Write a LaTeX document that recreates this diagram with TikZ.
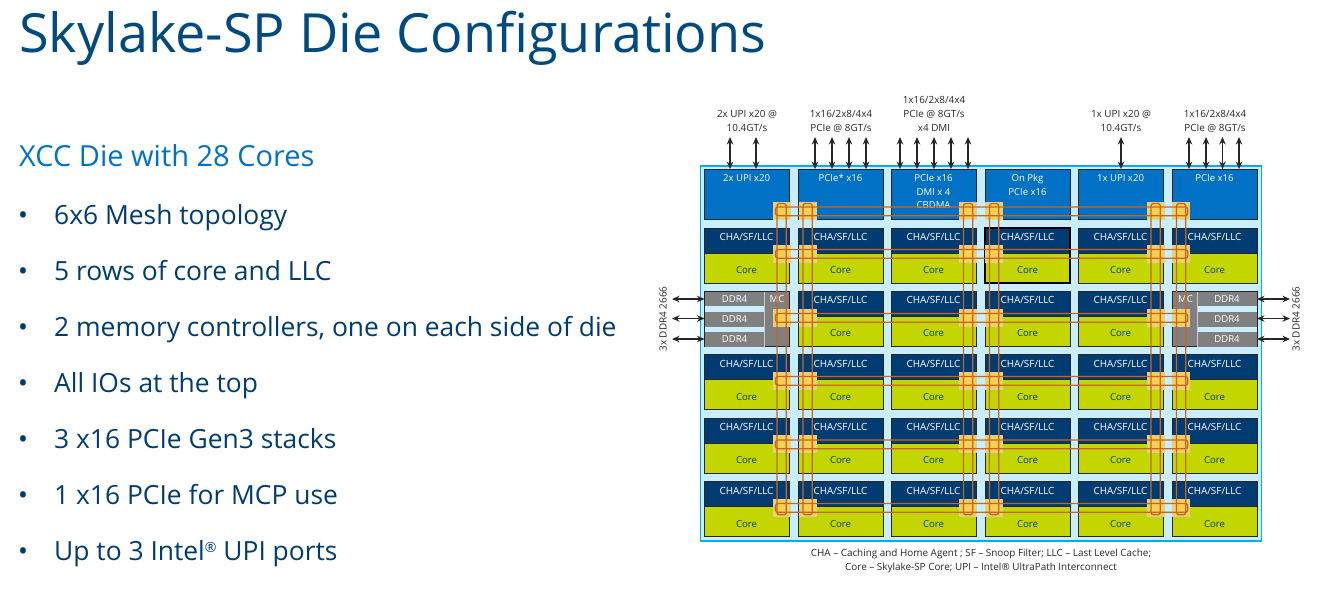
\documentclass[tikz,border=0pt]{standalone}
\usepackage{fontspec}
\usetikzlibrary{arrows.meta}
\setmainfont{Open Sans}
\definecolor{inteldark}{HTML}{004A7F}
\definecolor{intelblue}{HTML}{0071C5}
\definecolor{chablue}{HTML}{003C71}
\definecolor{corelime}{HTML}{C4D600}
\definecolor{dieback}{HTML}{C9EEFF}
\definecolor{dieedge}{HTML}{00AEEF}
\definecolor{ddrgray}{HTML}{808080}
\definecolor{stopfill}{HTML}{F6CF55}
\definecolor{stopedge}{HTML}{D8D0A8}
\definecolor{meshline}{HTML}{C8661E}
\tikzset{
    item/.style={anchor=base west, inner sep=0, text=chablue, font=\fontsize{26.4}{30}\selectfont},
    tilebase/.style={draw=black!85, line width=0.9pt, anchor=north west, inner sep=0, outer sep=0, minimum width=85pt},
    topblock/.style={tilebase, fill=intelblue, minimum height=50pt},
    chaband/.style={tilebase, fill=chablue, minimum height=25pt, text=white, font=\fontsize{9.9}{12}\selectfont, text height=8pt, text depth=8pt},
    coreband/.style={tilebase, fill=corelime, minimum height=30pt, text=chablue, font=\fontsize{9.6}{12}\selectfont, text height=11pt, text depth=0pt},
    memblock/.style={tilebase, fill=ddrgray, minimum height=54.5pt},
    ddrstrip/.style={fill=ddrgray, anchor=north west, inner sep=0, outer sep=0, minimum width=60pt, minimum height=14.5pt, text=white, font=\fontsize{9.6}{12}\selectfont},
    toplabel/.style={anchor=north, inner sep=0, align=center, text=white, font=\fontsize{9.6}{13.5}\selectfont},
    ext/.style={align=center, inner sep=0, text=black!85, font=\fontsize{9.9}{14}\selectfont},
    stopbox/.style={fill=stopfill, draw=stopedge, line width=0.8pt, anchor=north west, inner sep=0, minimum size=17pt},
    meshloop/.style={draw=meshline, line width=1.3pt, rounded corners=2.5pt},
    iolink/.style={{Stealth[length=7.5pt,width=6.5pt]}-{Stealth[length=7.5pt,width=6.5pt]}, line width=1.1pt, black!85}
}
\begin{document}
\begin{tikzpicture}[x=1pt, y=-1pt]
    \useasboundingbox (0, 0) rectangle (1322, 611);

    \node[anchor=base west, inner sep=0, text=inteldark, font=\fontsize{54}{60}\selectfont] (title) at (19, 52) {Skylake-SP Die Configurations};
    \node[anchor=base west, inner sep=0, text=intelblue, font=\fontsize{29}{34}\selectfont] (subtitle) at (19, 166) {XCC Die with 28 Cores};
    \node[item] (item1) at (18, 224) {\makebox[36pt][l]{•}6x6 Mesh topology};
    \node[item] (item2) at (18, 280) {\makebox[36pt][l]{•}5 rows of core and LLC};
    \node[item] (item3) at (18, 336) {\makebox[36pt][l]{•}2 memory controllers, one on each side of die};
    \node[item] (item4) at (18, 392) {\makebox[36pt][l]{•}All IOs at the top};
    \node[item] (item5) at (18, 448) {\makebox[36pt][l]{•}3 x16 PCIe Gen3 stacks};
    \node[item] (item6) at (18, 504) {\makebox[36pt][l]{•}1 x16 PCIe for MCP use};
    \node[item] (item7) at (18, 560) {\makebox[36pt][l]{•}Up to 3 Intel\raisebox{8pt}{\fontsize{14}{14}\selectfont ®} UPI ports};

    % die
    \node[draw=dieedge, fill=dieback, line width=1.6pt, anchor=north west, inner sep=0, minimum width=561pt, minimum height=375pt] (die) at (699.8, 165) {};

    \node[topblock] (io1) at (704, 169) {};
    \node[topblock] (io2) at (798, 169) {};
    \node[topblock] (io3) at (891, 169) {};
    \node[topblock] (io4) at (985, 169) {};
    \node[topblock] (io5) at (1078, 169) {};
    \node[topblock] (io6) at (1172, 169) {};
    \node[toplabel] (iotext1) at (746.5, 174.5) {2x UPI x20};
    \node[toplabel] (iotext2) at (840.5, 174.5) {PCIe* x16};
    \node[toplabel] (iotext3) at (933.5, 174.5) {PCIe x16\\DMI x 4\\CBDMA};
    \node[toplabel] (iotext4) at (1027.5, 174.5) {On Pkg\\PCIe x16};
    \node[toplabel] (iotext5) at (1120.5, 174.5) {1x UPI x20};
    \node[toplabel] (iotext6) at (1214.5, 174.5) {PCIe x16};

    % core tiles, the outer columns have no tile in row 2
    \foreach \c/\x/\rows in {1/704/{1,3,4,5}, 2/798/{1,2,3,4,5}, 3/891/{1,2,3,4,5}, 4/985/{1,2,3,4,5}, 5/1078/{1,2,3,4,5}, 6/1172/{1,3,4,5}}
        \foreach \r in \rows {
            \node[chaband] (cha\c\r) at (\x, 228 + 63.4*\r - 63.4) {CHA/SF/LLC};
            \node[coreband] (core\c\r) at (\x, 253 + 63.4*\r - 63.4) {Core};
        }
    \draw[line width=1.4pt, black] (cha41.north west) rectangle (core41.south east);

    % memory controllers
    \node[memblock] (mcl) at (704, 291.6) {};
    \node[memblock] (mcr) at (1172, 291.6) {};
    \node[ddrstrip, fill=dieback, minimum height=5.5pt] (gapl1) at (704.5, 306) {};
    \node[ddrstrip, fill=dieback, minimum height=5.5pt] (gapl2) at (704.5, 326.5) {};
    \node[ddrstrip, fill=dieback, minimum height=5.5pt] (gapr1) at (1197, 306) {};
    \node[ddrstrip, fill=dieback, minimum height=5.5pt] (gapr2) at (1197, 326.5) {};
    \node[ddrstrip] (ddrl1) at (704.5, 291.6) {DDR4};
    \node[ddrstrip] (ddrl2) at (704.5, 311.5) {DDR4};
    \node[ddrstrip] (ddrl3) at (704.5, 332) {DDR4};
    \node[ddrstrip] (ddrr1) at (1197, 291.6) {DDR4};
    \node[ddrstrip] (ddrr2) at (1197, 311.5) {DDR4};
    \node[ddrstrip] (ddrr3) at (1197, 332) {DDR4};
    \draw[white!80!black] (ddrl1.north east) -- (ddrl3.south east);
    \draw[white!80!black] (ddrr1.north west) -- (ddrr3.south west);
    \node[ddrstrip, fill=none, minimum width=25pt] (mctextl) at (764.5, 292) {MC};
    \node[ddrstrip, fill=none, minimum width=25pt] (mctextr) at (1173, 292) {MC};

    % mesh stops
    \foreach \c/\x in {1/772.5, 2/798.5, 3/959, 4/985, 5/1146.5, 6/1172}
        \foreach \r/\y in {1/202, 2/244.5, 3/308.5, 4/371.5, 5/435, 6/498.5}
            \node[stopbox] (stop\c\r) at (\x, \y) {};

    \foreach \r in {1, 2, 3, 4, 5, 6}
        \draw[meshloop] ([xshift=3pt, yshift=-5pt]stop1\r.north west) rectangle ([xshift=-2pt, yshift=4pt]stop6\r.south east);
    \foreach \c in {1, 2, 3, 4, 5, 6}
        \draw[meshloop] ([xshift=4.5pt, yshift=-1.5pt]stop\c1.north west) rectangle ([xshift=-4pt, yshift=1.5pt]stop\c6.south east);

    % labels and links outside the die
    \node[ext] (uplabel1) at (747, 121) {2x UPI x20 @\\10.4GT/s};
    \node[ext] (uplabel2) at (841, 121) {1x16/2x8/4x4\\PCIe @ 8GT/s};
    \node[ext] (uplabel3) at (934, 114) {1x16/2x8/4x4\\PCIe @ 8GT/s\\x4 DMI};
    \node[ext] (uplabel5) at (1121, 121) {1x UPI x20 @\\10.4GT/s};
    \node[ext] (uplabel6) at (1215, 121) {1x16/2x8/4x4\\PCIe @ 8GT/s};
    \node[ext, rotate=90] (leftlabel) at (663, 319) {3x DDR4 2666};
    \node[ext, rotate=90] (rightlabel) at (1296, 319) {3x DDR4 2666};
    \node[ext] (legend) at (981, 561) {CHA – Caching and Home Agent ; SF – Snoop Filter; LLC – Last Level Cache;\\Core – Skylake-SP Core; UPI – Intel® UltraPath Interconnect};

    \foreach \n/\b/\x in {a/io1/730, b/io1/756, c/io2/815, d/io2/832, e/io2/849, f/io2/866, g/io3/900, h/io3/917, i/io3/934, j/io3/951, k/io3/968, l/io5/1121, m/io6/1189, n/io6/1206, o/io6/1222.5, p/io6/1239} {
        \coordinate (up\n) at (\x, 137);
        \draw[iolink] (up\n) -- (up\n |- \b.north);
    }
    \coordinate (leftend1) at (672, 299);
    \coordinate (leftend2) at (672, 318.5);
    \coordinate (leftend3) at (672, 339);
    \coordinate (rightend1) at (1290, 299);
    \coordinate (rightend2) at (1290, 318.5);
    \coordinate (rightend3) at (1290, 339);
    \draw[iolink] (leftend1) -- (leftend1 -| ddrl1.west);
    \draw[iolink] (leftend2) -- (leftend2 -| ddrl2.west);
    \draw[iolink] (leftend3) -- (leftend3 -| ddrl3.west);
    \draw[iolink] (rightend1) -- (rightend1 -| ddrr1.east);
    \draw[iolink] (rightend2) -- (rightend2 -| ddrr2.east);
    \draw[iolink] (rightend3) -- (rightend3 -| ddrr3.east);
\end{tikzpicture}
\end{document}
